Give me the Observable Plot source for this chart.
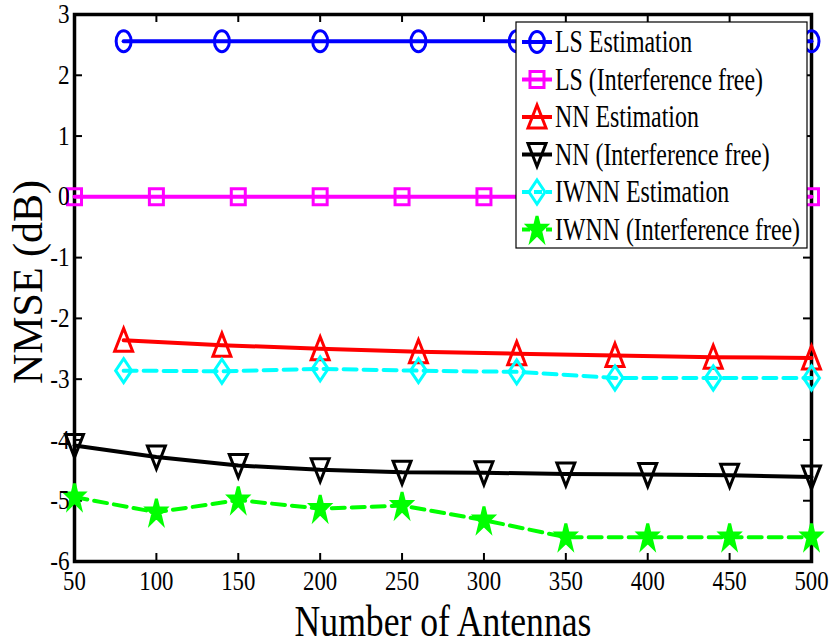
<!DOCTYPE html>
<html><head><meta charset="utf-8">
<script src="https://cdn.jsdelivr.net/npm/d3@7"></script>
<script src="https://cdn.jsdelivr.net/npm/@observablehq/plot@0.6"></script>
<style>body{margin:0;background:#fff}</style>
</head><body><div id="chart"></div>
<script>
// ---- data ----
const xTicks = [50, 100, 150, 200, 250, 300, 350, 400, 450, 500];
const yTicks = [-6, -5, -4, -3, -2, -1, 0, 1, 2, 3];
const antennasA = [80, 140, 200, 260, 320, 380, 440, 500];
const antennasB = [50, 100, 150, 200, 250, 300, 350, 400, 450, 500];
const lsEst    = [2.56, 2.56, 2.56, 2.56, 2.56, 2.56, 2.56, 2.56];
const lsFree   = [0, 0, 0, 0, 0, 0, 0, 0, 0, 0];
const nnEst    = [-2.36, -2.44, -2.50, -2.55, -2.58, -2.61, -2.64, -2.65];
const nnFree   = [-4.09, -4.28, -4.42, -4.49, -4.53, -4.54, -4.56, -4.57, -4.58, -4.61];
const iwnnEst  = [-2.86, -2.87, -2.83, -2.86, -2.88, -2.98, -2.98, -2.98];
const iwnnFree = [-4.94, -5.19, -4.99, -5.13, -5.08, -5.32, -5.60, -5.60, -5.60, -5.60];
const seriesNames = ["LS Estimation", "LS (Interference free)", "NN Estimation",
  "NN (Interference free)", "IWNN Estimation", "IWNN (Interference free)"];
const xLabel = "Number of Antennas";
const yLabel = "NMSE (dB)";

// ---- marker shapes (MATLAB-like, slightly tall) ----
const K = 0.5523;
const ellipseSym = {draw(c) { const rx = 7.5, ry = 10.5;
  c.moveTo(rx, 0); c.bezierCurveTo(rx, ry*K, rx*K, ry, 0, ry);
  c.bezierCurveTo(-rx*K, ry, -rx, ry*K, -rx, 0);
  c.bezierCurveTo(-rx, -ry*K, -rx*K, -ry, 0, -ry);
  c.bezierCurveTo(rx*K, -ry, rx, -ry*K, rx, 0); c.closePath(); }};
const squareSym = {draw(c) { c.moveTo(-7, -8); c.lineTo(7, -8); c.lineTo(7, 8); c.lineTo(-7, 8); c.closePath(); }};
const triUp = {draw(c) { c.moveTo(0, -12); c.lineTo(9, 11); c.lineTo(-9, 11); c.closePath(); }};
const triDown = {draw(c) { c.moveTo(0, 12); c.lineTo(9, -11); c.lineTo(-9, -11); c.closePath(); }};
const diamondSym = {draw(c) { c.moveTo(0, -12); c.lineTo(8, 0); c.lineTo(0, 12); c.lineTo(-8, 0); c.closePath(); }};
const starSym = {draw(c) { for (let i = 0; i < 10; i++) { const a = -Math.PI/2 + i*Math.PI/5, r = i % 2 ? 0.382 : 1;
  const px = Math.cos(a)*r*10, py = Math.sin(a)*r*13.5; i ? c.lineTo(px, py) : c.moveTo(px, py); } c.closePath(); }};

const xsList = [antennasA, antennasB, antennasA, antennasB, antennasA, antennasB];
const ysList = [lsEst, lsFree, nnEst, nnFree, iwnnEst, iwnnFree];
const colors = ["#0000ff", "#ff00ff", "#ff0000", "#000000", "#00ffff", "#00ff00"];
const dashes = [null, null, null, null, "13,7", "13,7"];
const symbols = [ellipseSym, squareSym, triUp, triDown, diamondSym, starSym];
const fills = ["none", "none", "none", "none", "none", "#00ff00"];

const W = 831, H = 644, mL = 74, mR = 20, mT = 14, mB = 83;
const FW = W - mL - mR, FH = H - mT - mB;
const FONT = "'Liberation Serif', 'Times New Roman', serif";

const marks = [];
seriesNames.forEach((name, i) => {
  const data = xsList[i].map((x, j) => ({x, y: ysList[i][j], name}));
  marks.push(Plot.line(data, {x: "x", y: "y", stroke: colors[i], strokeWidth: 4,
    strokeDasharray: dashes[i] || undefined}));
  marks.push(Plot.dot(data, {x: "x", y: "y", symbol: symbols[i], r: 8, stroke: colors[i],
    fill: fills[i], strokeWidth: 3}));
});

const plot = Plot.plot({
  width: W, height: H, marginLeft: mL, marginRight: mR, marginTop: mT, marginBottom: mB,
  style: {fontFamily: FONT, fontSize: "26px", color: "black", background: "white"},
  x: {domain: [50, 500]},
  y: {domain: [-6, 3]},
  marks: [
    Plot.ruleX(xTicks, {x: d => d, insetTop: FH - 8, stroke: "black", strokeWidth: 2}),
    Plot.ruleX(xTicks, {x: d => d, insetBottom: FH - 8, stroke: "black", strokeWidth: 2}),
    Plot.ruleY(yTicks, {y: d => d, insetRight: FW - 8, stroke: "black", strokeWidth: 2}),
    Plot.ruleY(yTicks, {y: d => d, insetLeft: FW - 8, stroke: "black", strokeWidth: 2}),
    Plot.frame({stroke: "black", strokeWidth: 3.5}),
    ...marks,
    Plot.axisX({ticks: xTicks, tickSize: 0, tickPadding: 10, tickFormat: d => String(d),
      label: null, fontSize: 26.5, fontFamily: FONT, fill: "black"}),
    Plot.axisY({ticks: yTicks, tickSize: 0, tickPadding: 5, tickFormat: d => String(d),
      label: null, fontSize: 27, fontFamily: FONT, fill: "black"}),
    Plot.text([xLabel], {text: d => d, frameAnchor: "bottom", dy: 60, lineAnchor: "middle",
      textAnchor: "middle", fontSize: 44, fontFamily: FONT, fill: "black"}),
    Plot.text([yLabel], {text: d => d, frameAnchor: "left", rotate: -90, dx: -46, dy: -6,
      lineAnchor: "middle", textAnchor: "middle", fontSize: 42, fontFamily: FONT, fill: "black"})
  ]
});

// horizontal compression of text, as in the reference
function squeeze(t, s) {
  const tr = t.getAttribute("transform") || "";
  const x = t.getAttribute("x");
  let pre = "";
  if (x !== null && !isNaN(+x)) { pre = ` translate(${x},0)`; t.removeAttribute("x"); }
  t.setAttribute("transform", `${tr}${pre} scale(${s},1)`);
}
plot.querySelectorAll("text").forEach(t => {
  const s = t.textContent;
  if (s === yLabel) return;
  squeeze(t, s === xLabel ? 0.81 : 0.86);
});

// legend
const svg = d3.select(plot);
const lg = svg.append("g").attr("font-family", FONT).attr("font-size", 31).attr("text-anchor", "start");
lg.append("rect").attr("x", 516).attr("y", 22).attr("width", 291).attr("height", 226)
  .attr("fill", "white").attr("stroke", "black").attr("stroke-width", 1.2);
seriesNames.forEach((name, i) => {
  const cy = 42 + i * 37.5;
  lg.append("line").attr("x1", 522).attr("x2", 552).attr("y1", cy).attr("y2", cy)
    .attr("stroke", colors[i]).attr("stroke-width", 4)
    .attr("stroke-dasharray", dashes[i] ? "8,4" : null);
  lg.append("path").attr("d", d3.symbol(symbols[i])()).attr("transform", `translate(537,${cy})`)
    .attr("stroke", colors[i]).attr("stroke-width", 3).attr("fill", fills[i]);
  lg.append("text").attr("transform", `translate(555,${cy}) scale(0.77,1)`).attr("dy", "0.33em")
    .attr("text-anchor", "start").attr("fill", "black").text(name);
});

document.getElementById("chart").appendChild(plot);
</script>
</body></html>
